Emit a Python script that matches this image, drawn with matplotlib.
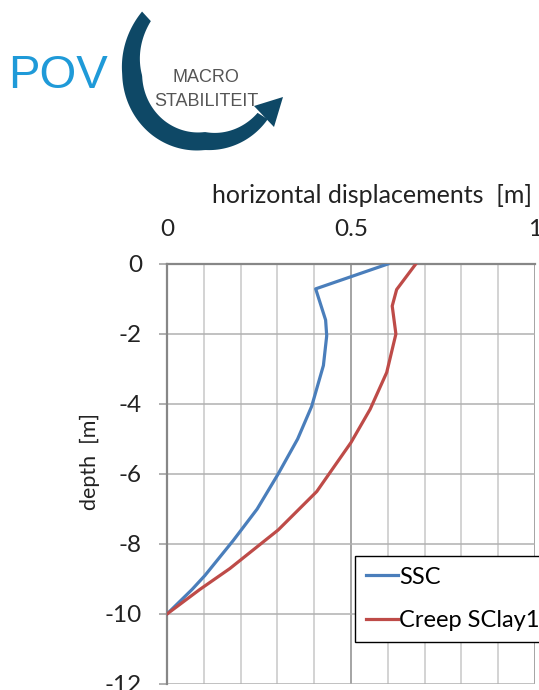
import numpy as np
import matplotlib
matplotlib.use("Agg")
import matplotlib.pyplot as plt
from matplotlib.patches import Polygon

# horizontal displacement profiles along the depth
ssc_depth = [0, -0.71, -1.6, -2.05, -2.9, -4.07, -5.0, -6.0, -7.0, -7.9, -8.9, -9.3, -10]
ssc_disp = [0.600, 0.404, 0.431, 0.434, 0.425, 0.393, 0.355, 0.302, 0.245, 0.180, 0.103, 0.068, 0.0]

creep_depth = [0, -0.73, -1.2, -2.0, -3.1, -4.15, -5.1, -6.5, -7.6, -8.7, -9.3, -10]
creep_disp = [0.676, 0.624, 0.612, 0.622, 0.597, 0.552, 0.500, 0.407, 0.302, 0.171, 0.089, 0.0]

series_names = ["SSC", "Creep SClay1"]
series_colors = ["#4a7ebb", "#be4b48"]

x_ticks = [0, 0.5, 1]
x_tick_labels = ["0", "0.5", "1"]
y_ticks = [0, -2, -4, -6, -8, -10, -12]

W, H = 539, 690
fig = plt.figure(figsize=(W / 100, H / 100), dpi=100)


def fx(px):
    return px / W


def fy(py):
    return 1 - py / H


# --- logo: POV + curved arrow ---
fig.text(fx(8), fy(76), "POV", family="Liberation Sans", fontsize=34,
         color="#1f9ad8", va="center", ha="left")

cx, cy = 205, 80
ang = np.array([132.6, 176, 225, 270, 328])
rad = np.array([86.5, 73, 67, 61, 68])
wid = np.array([13, 20, 19, 18, 12])
t = np.linspace(ang[0], ang[-1], 120)
r = np.interp(t, ang, rad)
w = np.interp(t, ang, wid)
th = np.radians(t)
outer = [(fx(cx + (ri + wi / 2) * np.cos(a)), fy(cy - (ri + wi / 2) * np.sin(a)))
         for a, ri, wi in zip(th, r, w)]
inner = [(fx(cx + (ri - wi / 2) * np.cos(a)), fy(cy - (ri - wi / 2) * np.sin(a)))
         for a, ri, wi in zip(th, r, w)]
arc_color = "#0e4866"
fig.patches.append(Polygon(outer + inner[::-1], closed=True, transform=fig.transFigure,
                           facecolor=arc_color, edgecolor="none"))
head = [(fx(254), fy(106)), (fx(283), fy(97)), (fx(274), fy(127))]
fig.patches.append(Polygon(head, closed=True, transform=fig.transFigure,
                           facecolor=arc_color, edgecolor="none"))

fig.text(fx(206), fy(77), "MACRO", family="Liberation Sans", fontsize=13,
         color="#555555", ha="center", va="center")
fig.text(fx(206), fy(101), "STABILITEIT", family="Liberation Sans", fontsize=13,
         color="#555555", ha="center", va="center")

# --- displacement chart ---
plt.rcParams["font.family"] = ["Lato", "DejaVu Sans"]
ax = fig.add_axes([fx(167), fy(684), fx(535) - fx(167), fy(264) - fy(684)])

ax.plot(ssc_disp, ssc_depth, color=series_colors[0], lw=2.3, label=series_names[0], zorder=3)
ax.plot(creep_disp, creep_depth, color=series_colors[1], lw=2.3, label=series_names[1], zorder=3)

ax.set_xlim(0, 1)
ax.set_ylim(-12, 0)
ax.xaxis.tick_top()
ax.set_xticks(x_ticks)
ax.set_xticklabels(x_tick_labels)
ax.set_xticks(np.arange(0, 1.01, 0.1), minor=True)
ax.set_yticks(y_ticks)
ax.set_yticklabels([str(v) for v in y_ticks])

ax.tick_params(axis="x", which="both", length=0, pad=17, labelsize=17.5, colors="#222222")
ax.tick_params(axis="y", which="major", length=6, width=1.1, color="#9a9a9a",
               pad=12, labelsize=17.5, labelcolor="#222222")

ax.grid(which="minor", axis="x", color="#c8c8c8", lw=1.1)
ax.grid(which="major", axis="x", color="#8c8c8c", lw=1.1)
ax.grid(which="major", axis="y", color="#b0b0b0", lw=1.1)
ax.set_axisbelow(True)

for side in ["right", "bottom"]:
    ax.spines[side].set_visible(False)
for side in ["left", "top"]:
    ax.spines[side].set_color("#878787")
    ax.spines[side].set_linewidth(1.6)

fig.text(fx(372), fy(203), "horizontal displacements  [m]", fontsize=18,
         color="#222222", ha="center", va="baseline")
fig.text(fx(90), fy(462), "depth  [m]", fontsize=15.5, color="#222222",
         ha="center", va="center", rotation=90)

leg = ax.legend(loc="upper left", bbox_to_anchor=(fx(355), fy(556)),
                bbox_transform=fig.transFigure, borderaxespad=0, fontsize=17,
                handlelength=1.35, handletextpad=0.08, labelspacing=0.95,
                borderpad=0.45, fancybox=False, framealpha=1)
leg.get_frame().set_edgecolor("#000000")
leg.get_frame().set_linewidth(1.0)

fig.savefig("out.png", dpi=100)
